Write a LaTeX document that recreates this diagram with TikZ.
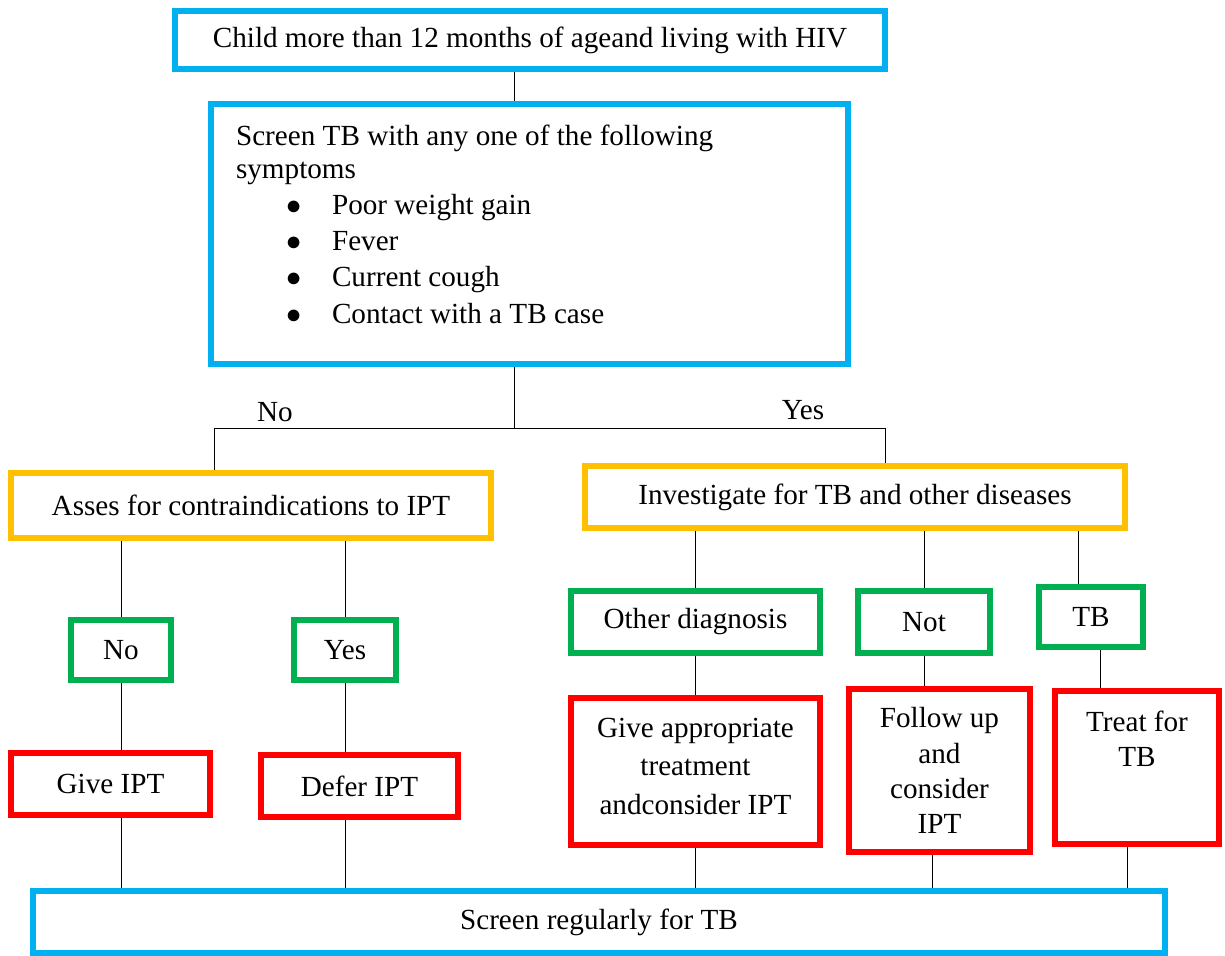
\documentclass[tikz,border=0pt]{standalone}
\usepackage{fontspec}
\setmainfont{Liberation Serif}
\usepackage{xcolor}
\usepackage{tikz}
\usetikzlibrary{backgrounds}
\definecolor{boxblue}{HTML}{00B0F0}
\definecolor{boxgold}{HTML}{FFC000}
\definecolor{boxgreen}{HTML}{00B050}
\definecolor{boxred}{HTML}{FF0000}
\newcommand{\symitem}{\hspace*{1cm}\makebox[0.92cm][l]{$\bullet$}}

\begin{document}
\begin{tikzpicture}[
    x=0.02cm, y=-0.02cm,
    line width=0.85pt,
    every node/.style={font=\fontsize{16.6}{20}\selectfont},
    box/.style={draw, line width=3.8pt, inner sep=0pt, align=center},
    bluebox/.style={box, draw=boxblue},
    goldbox/.style={box, draw=boxgold},
    greenbox/.style={box, draw=boxgreen},
    redbox/.style={box, draw=boxred}
]
\useasboundingbox (0,0) rectangle (1225,956);

%-------------------------
% Entry and screening
%-------------------------
\node[bluebox, minimum width=14.2cm, minimum height=1.16cm] (top) at (530,40)
    {Child more than 12 months of ageand living with HIV};
\node[bluebox, inner xsep=0.5cm, inner ysep=0.42cm, align=left] (screen) at (529.5,234)
    {\parbox[c][4.36cm][t]{11.74cm}{\fontsize{16.6}{19}\selectfont
    Screen TB with any one of the following\\
    symptoms\\[1.5pt]
    \symitem Poor weight gain\\[1.5pt]
    \symitem Fever\\[1.5pt]
    \symitem Current cough\\[1.5pt]
    \symitem Contact with a TB case}};

% Branch labels
\node (noLbl) at (275,412) {No};
\node (yesLbl) at (803,410) {Yes};

%-------------------------
% No branch
%-------------------------
\node[goldbox, minimum width=9.6cm, minimum height=1.3cm] (asses) at (251,505.5)
    {Asses for contraindications to IPT};
\node[greenbox, minimum width=2.0cm, minimum height=1.2cm] (noBox) at (121,650) {No};
\node[greenbox, minimum width=2.04cm, minimum height=1.2cm] (yesBox) at (345,650) {Yes};
\node[redbox, minimum width=3.98cm, minimum height=1.24cm] (giveIpt) at (110.5,784) {Give IPT};
\node[redbox, minimum width=3.94cm, minimum height=1.24cm] (defer) at (359.5,786) {Defer IPT};

%-------------------------
% Yes branch
%-------------------------
\node[goldbox, minimum width=10.8cm, minimum height=1.24cm] (invest) at (855,497)
    {Investigate for TB and other diseases};
\node[greenbox, minimum width=4.98cm, minimum height=1.24cm] (other) at (695.5,622) {Other diagnosis};
\node[greenbox, minimum width=2.64cm, minimum height=1.24cm] (notBox) at (924,622) {Not};
\node[greenbox, minimum width=2.08cm, minimum height=1.2cm] (tbBox) at (1091,617) {TB};
\node[redbox, inner ysep=0.4cm] (appro) at (695.5,771.5)
    {\parbox[c][2.14cm][t]{4.98cm}{\centering Give appropriate\\[2pt] treatment\\[2pt] andconsider IPT}};
\node[redbox, minimum width=3.62cm, minimum height=3.26cm] (follow) at (939.5,770.5)
    {Follow up\\ and\\ consider\\ IPT};
\node[redbox, inner ysep=0.4cm] (treat) at (1137,767.5)
    {\parbox[c][2.26cm][t]{3.28cm}{\centering Treat for\\ TB}};

%-------------------------
% Exit
%-------------------------
\node[bluebox, minimum width=22.64cm, minimum height=1.24cm] (regular) at (599,922)
    {Screen regularly for TB};

%-------------------------
% Connectors
%-------------------------
\coordinate (trunk) at (514,0);
\coordinate (split) at (514,428);
\coordinate (noTurn) at (214,428);
\coordinate (yesTurn) at (885,428);
\coordinate (tbUp) at (1078,0);
\coordinate (tbDown) at (1100,0);
\coordinate (followDown) at (932,0);
\coordinate (treatDown) at (1127,0);

\begin{scope}[on background layer]
\draw (top.south -| trunk) -- (screen.north -| trunk);
\draw (screen.south -| trunk) -- (split);
\draw (noTurn) -- (yesTurn);
\draw (noTurn) -- (noTurn |- asses.north);
\draw (yesTurn) -- (yesTurn |- invest.north);

% No side
\draw (asses.south -| noBox) -- (noBox.north);
\draw (asses.south -| yesBox) -- (yesBox.north);
\draw (noBox.south) -- (noBox.south |- giveIpt.north);
\draw (yesBox.south) -- (yesBox.south |- defer.north);
\draw (giveIpt.south -| noBox) -- (regular.north -| noBox);
\draw (defer.south -| yesBox) -- (regular.north -| yesBox);

% Yes side
\draw (invest.south -| other) -- (other.north);
\draw (invest.south -| notBox) -- (notBox.north);
\draw (invest.south -| tbUp) -- (tbBox.north -| tbUp);
\draw (other.south) -- (other.south |- appro.north);
\draw (notBox.south) -- (notBox.south |- follow.north);
\draw (tbBox.south -| tbDown) -- (treat.north -| tbDown);
\draw (appro.south -| other) -- (regular.north -| other);
\draw (follow.south -| followDown) -- (regular.north -| followDown);
\draw (treat.south -| treatDown) -- (regular.north -| treatDown);
\end{scope}
\end{tikzpicture}
\end{document}
